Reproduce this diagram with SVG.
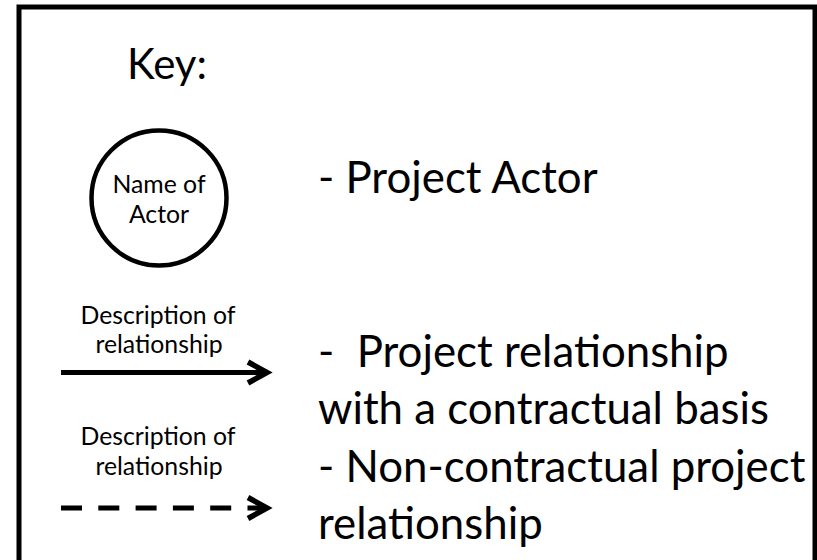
<svg xmlns="http://www.w3.org/2000/svg" width="817" height="560" viewBox="0 0 817 560">
  <style>
    text { font-family: Lato, Carlito, "Open Sans", sans-serif; fill: #000; }
    .big { font-size: 43.8px; }
    .key { font-size: 42px; text-anchor: middle; }
    .small { font-size: 24.8px; text-anchor: middle; }
    .line { fill: none; stroke: #000; stroke-width: 5; }
    .dash { stroke-dasharray: 21 16.3; }
  </style>
  <defs>
    <marker id="chev" markerUnits="userSpaceOnUse" markerWidth="30" markerHeight="30" refX="25" refY="15" orient="auto" overflow="visible">
      <polyline points="6,4.5 25,15 6,25.5" fill="none" stroke="#000" stroke-width="5.5" stroke-miterlimit="10"/>
    </marker>
  </defs>
  <rect x="0" y="0" width="817" height="560" fill="#fff"/>
  <rect id="frame" x="19" y="7" width="796" height="600" fill="none" stroke="#000" stroke-width="5"/>
  <g id="title">
    <text class="key" x="167" y="79.3">Key:</text>
  </g>
  <g id="actor">
    <circle cx="159" cy="198" r="67.5" fill="#fff" stroke="#000" stroke-width="4.5"/>
    <text class="small" x="159" y="192.7">Name of</text>
    <text class="small" x="159" y="223.3">Actor</text>
  </g>
  <g id="actor-desc">
    <text class="big" x="318" y="193.3">- Project Actor</text>
  </g>
  <g id="connectors">
    <path class="line" d="M61,372.5 H267" marker-end="url(#chev)"/>
    <path class="line dash" d="M61,508 H267" marker-end="url(#chev)"/>
  </g>
  <g id="labels">
    <text class="small" x="158" y="323.5">Description of</text>
    <text class="small" x="159" y="353">relationship</text>
    <text class="small" x="158" y="445">Description of</text>
    <text class="small" x="159" y="475">relationship</text>
  </g>
  <g id="rel-desc">
    <text class="big" x="318" y="367.3" xml:space="preserve">-  Project relationship</text>
    <text class="big" x="318" y="424">with a contractual basis</text>
    <text class="big" x="318" y="481.7">- Non-contractual project</text>
    <text class="big" x="318" y="539.3">relationship</text>
  </g>
</svg>
